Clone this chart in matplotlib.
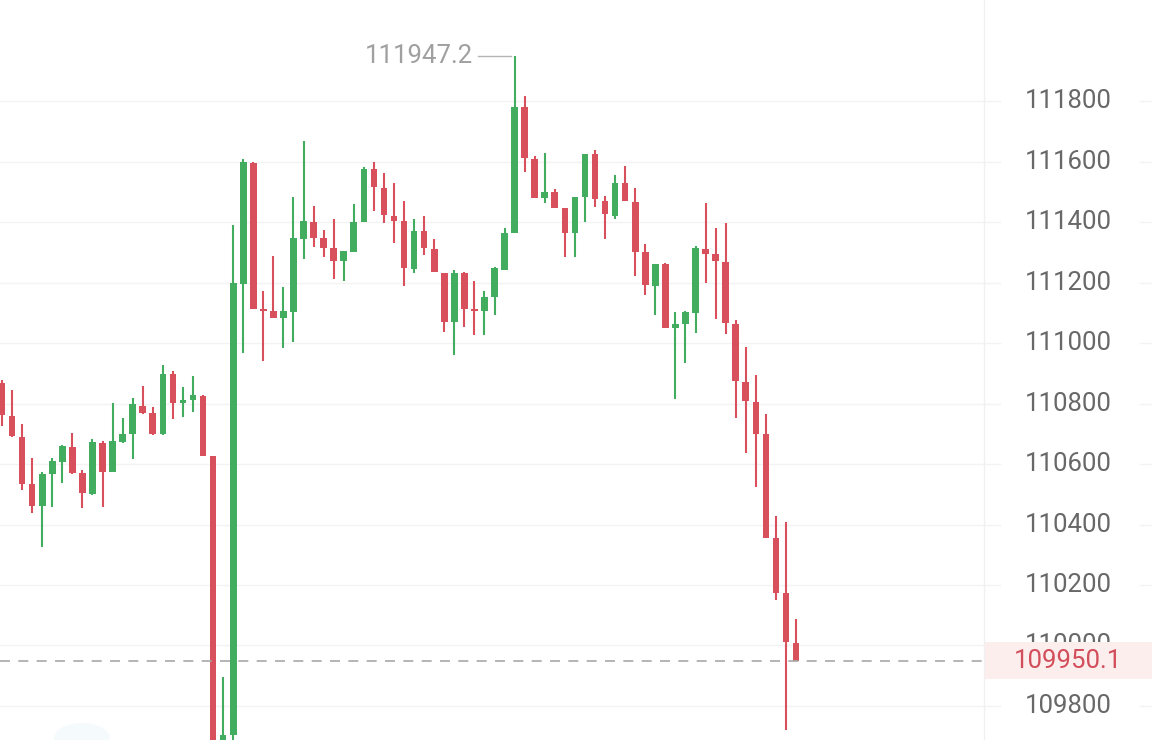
import numpy as np
import matplotlib.pyplot as plt
import matplotlib.transforms as mtransforms
from matplotlib.patches import Rectangle, Ellipse

# OHLC (candle 0 is cut by the left edge)
opens = [110868, 110759, 110689, 110534, 110461, 110567, 110607, 110656, 110570, 110501,
         110669, 110574, 110673, 110699, 110792, 110769, 110699, 110898, 110802, 110812,
         110825, 110626, 109550, 109704, 111195, 111595, 111112, 111106, 111083, 111102,
         111344, 111400, 111347, 111314, 111271, 111301, 111400, 111575, 111512, 111420,
         111403, 111245, 111370, 111311, 111231, 111069, 111231, 111112, 111106, 111152,
         111241, 111364, 111780, 111608, 111479, 111499, 111446, 111364, 111483, 111625,
         111469, 111420, 111529, 111466, 111301, 111188, 111261, 111050, 111063, 111099,
         111311, 111294, 111268, 111063, 110871, 110805, 110699, 110355, 110173, 110008]
highs = [110878, 110845, 110732, 110620, 110574, 110620, 110663, 110702, 110580, 110683,
         110676, 110802, 110752, 110818, 110858, 110788, 110927, 110907, 110855, 110891,
         110828, 110626, 109896, 111390, 111608, 111598, 111172, 111288, 111185, 111483,
         111668, 111453, 111374, 111410, 111304, 111460, 111582, 111598, 111562, 111529,
         111469, 111410, 111420, 111344, 111231, 111241, 111235, 111205, 111172, 111251,
         111380, 111947.2, 111817, 111618, 111628, 111509, 111446, 111483, 111625, 111638,
         111486, 111555, 111585, 111512, 111327, 111261, 111264, 111102, 111106, 111321,
         111463, 111380, 111397, 111076, 110987, 110894, 110765, 110428, 110408, 110088]
lows = [110726, 110689, 110514, 110438, 110326, 110458, 110537, 110567, 110455, 110497,
        110458, 110574, 110669, 110616, 110765, 110696, 110696, 110749, 110755, 110772,
        110626, 109500, 109500, 109650, 110967, 111112, 110940, 111083, 110983, 111003,
        111278, 111317, 111284, 111212, 111205, 111301, 111400, 111436, 111397, 111331,
        111188, 111231, 111291, 111235, 111036, 110960, 111053, 111026, 111026, 111093,
        111241, 111364, 111565, 111479, 111463, 111446, 111284, 111284, 111400, 111450,
        111344, 111410, 111469, 111221, 111159, 111093, 111050, 110815, 110934, 111033,
        111198, 111079, 111030, 110752, 110636, 110524, 110355, 110150, 109721, 109950.1]
closes = [110762, 110693, 110534, 110461, 110567, 110610, 110659, 110570, 110504, 110673,
          110574, 110676, 110699, 110798, 110769, 110699, 110898, 110802, 110812, 110828,
          110626, 109550, 109704, 111198, 111598, 111112, 111106, 111083, 111106, 111347,
          111403, 111347, 111314, 111271, 111304, 111400, 111575, 111516, 111423, 111403,
          111248, 111370, 111314, 111235, 111069, 111231, 111112, 111106, 111152, 111248,
          111364, 111780, 111612, 111479, 111499, 111446, 111364, 111483, 111625, 111476,
          111426, 111529, 111469, 111301, 111192, 111261, 111050, 111063, 111102, 111314,
          111294, 111271, 111066, 110874, 110808, 110699, 110355, 110173, 110011, 109950.1]

price_ticks = [109800, 110000, 110200, 110400, 110600, 110800, 111000, 111200, 111400, 111600, 111800]
last_price = 109950.1
max_label = "111947.2"

green = '#43ad5f'
red = '#d8505b'
font = ['Roboto', 'DejaVu Sans']

fig = plt.figure(figsize=(11.52, 7.4), dpi=100)
ax = fig.add_axes([0, 0, 985 / 1152, 1])
ax.set_xlim(-0.2, 97.8)
ax.set_ylim(109687.6, 112133.9)
ax.axis('off')

o = np.array(opens, dtype=float)
h = np.array(highs, dtype=float)
l = np.array(lows, dtype=float)
c = np.array(closes, dtype=float)
x = np.arange(len(o))
up = c >= o
cols = np.where(up, green, red)

ax.vlines(x, l, h, colors=cols, linewidth=1.5, zorder=3)
bottom = np.minimum(o, c)
height = np.maximum(np.abs(c - o), 5)
ax.bar(x, height, bottom=bottom, width=0.66, color=cols, linewidth=0, zorder=4)

# grid lines, broken around the price labels
tr = mtransforms.blended_transform_factory(fig.transFigure, ax.transData)
for p in price_ticks:
    ax.plot([0, 1000 / 1152], [p, p], color='#f3f3f3', lw=1, transform=tr,
            clip_on=False, zorder=1)
    ax.plot([1140 / 1152, 1], [p, p], color='#f3f3f3', lw=1, transform=tr,
            clip_on=False, zorder=1)
    ax.text(1068 / 1152, p, f"{p}", transform=tr, ha='center', va='center',
            fontsize=18.5, color='#686868', family=font, clip_on=False, zorder=2)

fig.add_artist(plt.Line2D([984 / 1152, 984 / 1152], [0, 1], color='#f0f0f0', lw=1))

# last price line and tag (the tag covers the lower half of the 110000 label)
ax.axhline(last_price, color='#a8a8a8', lw=1.2, ls=(0, (6, 5)), zorder=5)
y0 = ax.transData.transform((0, last_price))[1] / 740
fig.add_artist(Rectangle((985 / 1152, y0 - 18 / 740), 167 / 1152, 37 / 740,
                         transform=fig.transFigure, facecolor='#fdeeee',
                         edgecolor='none', zorder=6))
fig.text(1068 / 1152, y0, f"{last_price}", ha='center', va='center', fontsize=18.5,
         color='#d24e5a', family=font, zorder=7)

# highest price marker
imax = int(np.argmax(h))
ax.plot([imax - 3.6, imax - 0.4], [h[imax], h[imax]], color='#b5b5b5', lw=1, zorder=5)
ax.text(imax - 4.1, h[imax], max_label, ha='right', va='center', fontsize=18.5,
        color='#a0a0a0', family=font, zorder=5)

# faint watermark blob bottom-left
fig.add_artist(Ellipse((82 / 1152, 2 / 740), 56 / 1152, 30 / 740,
                       transform=fig.transFigure, facecolor='#f5fbfd',
                       edgecolor='none', zorder=0))

fig.savefig('out.png', dpi=100, facecolor='white')
